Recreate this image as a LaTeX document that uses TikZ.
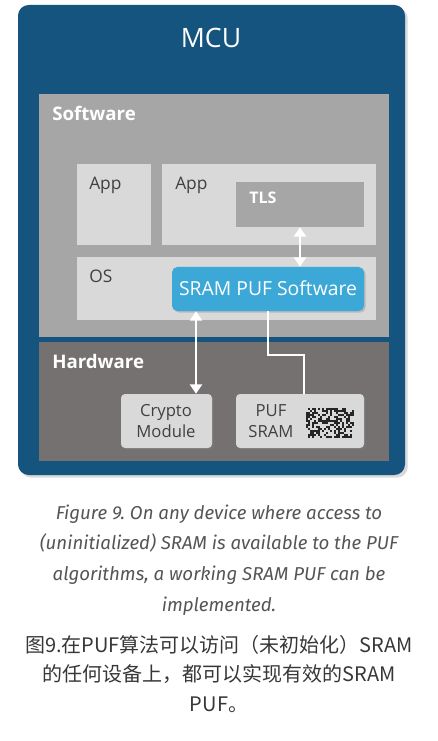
\documentclass[tikz,border=0pt]{standalone}
\usepackage{fontspec}
\setmainfont{Open Sans}
\newfontfamily\cjk{Noto Sans CJK SC}
\newfontfamily\capfont{Fira Sans}
\usetikzlibrary{arrows.meta,fit,shadows}
\definecolor{mcublue}{RGB}{21,84,127}
\definecolor{swgray}{RGB}{166,166,166}
\definecolor{hwgray}{RGB}{118,113,113}
\definecolor{boxlight}{RGB}{217,217,217}
\definecolor{textgray}{RGB}{64,64,64}
\definecolor{pufblue}{RGB}{59,168,216}
\definecolor{capgray}{RGB}{85,85,85}
\definecolor{cngray}{RGB}{55,55,55}
\frenchspacing
\begin{document}
\begin{tikzpicture}[x=0.75pt, y=-0.75pt,
    box/.style={inner sep=0pt, fill=#1},
    lbl/.style={inner sep=0pt, anchor=base west, text=textgray, font=\fontsize{13}{15}\selectfont},
    head/.style={inner sep=0pt, anchor=base west, text=white, font=\bfseries\fontsize{14}{16}\selectfont},
    chip/.style={inner sep=0pt, fill=boxlight, rounded corners=3pt,
        drop shadow={opacity=0.35, shadow xshift=1.2pt, shadow yshift=-1.2pt}},
    chiptext/.style={inner sep=0pt, align=center, text=textgray, font=\fontsize{12.5}{16.3}\selectfont},
    link/.style={draw=white, line width=2.2pt},
    biarrow/.style={link, {Triangle[width=9pt,length=7pt]}-{Triangle[width=9pt,length=7pt]}}]
    % 邊界
    \useasboundingbox (0,0) rectangle (438,741);

    % 外框 MCU
    \node[box=mcublue, rounded corners=8pt, fit={(18,5) (405,475)},
        drop shadow={opacity=0.3, shadow xshift=2pt, shadow yshift=-2pt}] (mcu) {};
    \node[inner sep=0pt, anchor=base, text=white, font=\fontsize{20}{24}\selectfont] (mcutext) at (211,48) {MCU};

    % 軟體層與硬體層
    \node[box=swgray, fit={(39,94) (389,337)}] (sw) {};
    \node[box=hwgray, fit={(39,342) (389,461)}] (hw) {};
    \node[head] (swtext) at (52,121) {Software};
    \node[head] (hwtext) at (52,368) {Hardware};

    % 應用程式與作業系統
    \node[box=boxlight, fit={(77,164) (151,245)}] (app1) {};
    \node[box=boxlight, fit={(162,164) (376,245)}] (app2) {};
    \node[box=swgray, fit={(236,182) (364,227)}] (tls) {};
    \node[box=boxlight, fit={(77,257) (376,320)}] (os) {};
    \node[lbl] (app1text) at (89,190) {App};
    \node[lbl] (app2text) at (175,190) {App};
    \node[lbl] (ostext) at (89,282) {OS};
    \node[lbl, text=white, font=\bfseries\fontsize{12}{14}\selectfont] (tlstext) at (249,204) {TLS};

    % SRAM PUF 軟體
    \node[box=pufblue, rounded corners=4pt, fit={(172,267) (364,311)},
        drop shadow={opacity=0.35, shadow xshift=1.2pt, shadow yshift=-1.2pt}] (pufsw) {};
    \node[inner sep=0pt, anchor=base, text=white, font=\fontsize{14.5}{17}\selectfont] (pufswtext) at (268,295) {SRAM PUF Software};

    % 硬體模組
    \node[chip, fit={(121,394) (212,448)}] (crypto) {};
    \node[chip, fit={(236,394) (364,448)}] (pufsram) {};
    \node[chiptext] (cryptotext) at (166,421) {Crypto\\Module};
    \node[chiptext] (pufsramtext) at (271,421) {PUF\\SRAM};

    % 雜訊圖樣
    \pgfmathsetseed{42}
    \foreach \i in {0,...,23}
        \foreach \j in {0,...,14} {
            \pgfmathrandominteger{\bit}{0}{1}
            \ifnum\bit=1 \fill[black!85] (306+2*\i,408+2*\j) rectangle ++(2,2); \fi
        }

    % 連線
    \coordinate (tap) at (196,0);
    \coordinate (bend) at (304,355);
    \draw[biarrow] (tls.south) -- (tls.south |- pufsw.north);
    \draw[biarrow] (pufsw.south -| tap) -- (crypto.north -| tap);
    \draw[link] (pufsw.south) |- (bend) -- (bend |- pufsram.north);

    % 圖說
    \node[inner sep=0pt, anchor=base, align=center, text=capgray, font=\capfont\itshape\fontsize{14}{23}\selectfont] (capen) at (219,611)
        {Figure 9. On any device where access to\\(uninitialized) SRAM is available to the PUF\\algorithms, a working SRAM PUF can be\\implemented.};
    \node[inner sep=0pt, anchor=base, align=center, text=cngray, font=\cjk\fontsize{15}{22}\selectfont] (capcn) at (219,711)
        {图9.在PUF算法可以访问（未初始化）SRAM\\的任何设备上，都可以实现有效的SRAM\\PUF。};
\end{tikzpicture}
\end{document}
